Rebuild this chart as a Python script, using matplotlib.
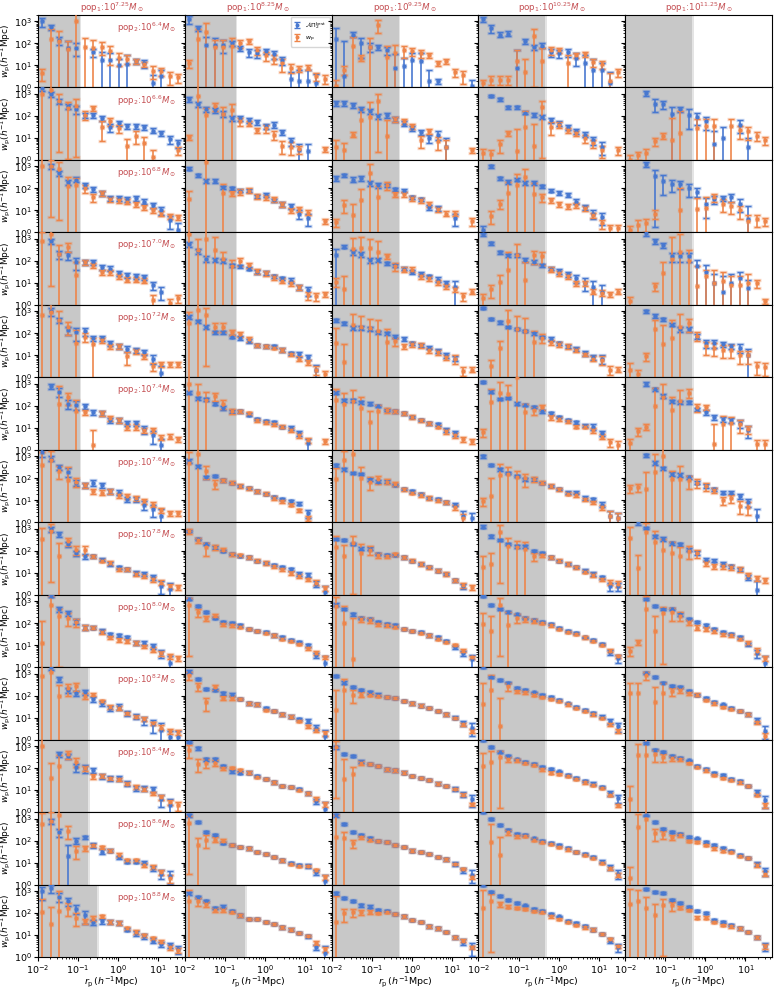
"""
pop1 x pop2 projected correlation grid: best-fit model vs measured w_p
"""

import numpy as np
import matplotlib.pyplot as plt
from matplotlib.ticker import LogLocator, NullFormatter

BLUE = "#4878d0"
ORANGE = "#ee854a"
RED = "#c44e52"

# bin centres in h^-1 Mpc
rp = [0.0128, 0.0208, 0.0339, 0.0552, 0.0898, 0.146, 0.238, 0.388, 0.631,
      1.03, 1.67, 2.72, 4.44, 7.23, 11.8, 19.2, 31.2]

pop1_mass = ["7.25", "8.25", "9.25", "10.25", "11.25"]
pop2_mass = ["6.4", "6.6", "6.8", "7.0", "7.2", "7.4", "7.6", "7.8", "8.0",
             "8.2", "8.4", "8.6", "8.8"]

# right edge of the grey (unresolved) band, per column, per row
shade_1 = [0.11, 0.11, 0.11, 0.11, 0.11, 0.11, 0.11, 0.11, 0.11, 0.18, 0.18, 0.18, 0.30]
shade_2 = [0.186, 0.186, 0.186, 0.186, 0.186, 0.186, 0.186, 0.186, 0.186, 0.186, 0.186, 0.186, 0.32]
shade_3 = [0.47] * 13
shade_4 = [0.47] * 13
shade_5 = [0.47] * 13

# log10 w_p, blue = best fit, one row per pop2 mass; *_up = upper error in dex
fit1 = [
    [3.0, 2.75, 2.15, 1.8, 1.8, None, 1.6, 1.25, 1.25, 1.0, 1.05, 1.2, 1.1, 0.2, 0.5, None, None],
    [3.25, 3.0, 2.65, 2.45, 2.3, 2.05, 2.05, 1.9, 1.5, 1.67, 1.55, 1.55, 1.5, 1.33, 1.2, 0.95, 0.75],
    [None, 3.0, 2.7, 2.3, 2.4, 2.15, 1.95, 1.8, 1.55, 1.55, 1.5, 1.55, 1.4, 1.25, 1.0, 0.55, 0.1],
    [None, 2.9, 2.3, 2.25, 1.95, 1.95, 1.95, 1.7, 1.65, 1.45, 1.35, 1.3, 1.25, 0.9, 0.6, None, None],
    [None, 3.0, 2.6, 2.15, 2.05, 2.1, 1.8, 1.8, 1.55, 1.4, 1.3, 1.25, 1.15, 0.85, 0.2, None, None],
    [None, 2.9, 2.65, 2.1, 2.05, 2.0, 1.7, 1.65, 1.35, 1.35, 1.2, 1.2, 0.95, 0.65, 0.2, None, None],
    [3.2, 2.9, 2.5, 2.3, 1.8, 1.7, 1.8, 1.7, 1.4, 1.35, 1.05, 1.05, 0.8, 0.6, 0.3, None, None],
    [None, 3.0, 2.75, 2.3, 1.9, 1.75, 1.75, 1.6, 1.4, 1.25, 1.15, 1.0, 0.95, 0.8, 0.4, 0.25, None],
    [None, 3.25, 2.65, 2.45, 2.1, 1.8, 1.8, 1.65, 1.5, 1.45, 1.35, 1.1, 1.1, 0.95, 0.65, 0.2, None],
    [None, 3.3, 2.75, 2.25, 2.1, 2.15, 1.85, 1.65, 1.45, 1.5, 1.2, 1.05, 0.9, 0.7, 0.45, 0.1, 0.1],
    [None, None, 2.65, 2.55, 2.05, 2.0, 1.9, 1.65, 1.55, 1.55, 1.3, 1.1, 1.1, 1.05, 0.6, 0.3, None],
    [None, 2.9, 2.4, 1.3, 2.0, 2.15, 1.8, 1.5, 1.55, 1.25, 1.05, 1.05, 1.0, 0.75, 0.5, 0.4, None],
    [3.0, 3.15, 2.75, 2.55, 2.2, 1.9, 1.6, 1.65, 1.6, 1.55, 1.25, 1.1, 0.95, 0.75, 0.6, 0.55, 0.35],
]
fit1_up = [
    [0.15, 0.1, 0.15, 0.3, 0.2, 0, 0.15, 0.35, 0.3, 0.3, 0.4, 0.1, 0.15, 0.35, 0.3, 0, 0],
    [0.1, 0.1, 0.1, 0.1, 0.15, 0.1, 0.1, 0.1, 0.15, 0.1, 0.1, 0.1, 0.1, 0.1, 0.1, 0.15, 0.15],
    [0, 0.1, 0.1, 0.1, 0.1, 0.1, 0.1, 0.1, 0.1, 0.1, 0.1, 0.1, 0.1, 0.1, 0.15, 0.2, 0.3],
    [0, 0.1, 0.15, 0.15, 0.2, 0.1, 0.1, 0.1, 0.1, 0.1, 0.1, 0.1, 0.1, 0.15, 0.2, 0, 0],
    [0, 0.15, 0.1, 0.15, 0.2, 0.15, 0.1, 0.1, 0.1, 0.1, 0.1, 0.1, 0.1, 0.15, 0.3, 0, 0],
    [0, 0.1, 0.15, 0.15, 0.15, 0.1, 0.1, 0.1, 0.1, 0.1, 0.1, 0.1, 0.15, 0.2, 0.3, 0, 0],
    [0.15, 0.1, 0.1, 0.15, 0.1, 0.1, 0.1, 0.1, 0.1, 0.1, 0.1, 0.1, 0.15, 0.2, 0.3, 0, 0],
    [0, 0.1, 0.1, 0.1, 0.1, 0.1, 0.07, 0.07, 0.07, 0.07, 0.07, 0.07, 0.07, 0.1, 0.2, 0.3, 0],
    [0, 0.05, 0.1, 0.1, 0.1, 0.1, 0.07, 0.07, 0.07, 0.07, 0.07, 0.07, 0.07, 0.1, 0.15, 0.3, 0],
    [0, 0.1, 0.1, 0.1, 0.1, 0.1, 0.1, 0.1, 0.1, 0.1, 0.1, 0.1, 0.15, 0.2, 0.3, 0.3, 0.3],
    [0, 0, 0.1, 0.1, 0.15, 0.15, 0.1, 0.1, 0.1, 0.1, 0.1, 0.1, 0.1, 0.1, 0.2, 0.3, 0],
    [0, 0.1, 0.15, 0.5, 0.1, 0.07, 0.1, 0.1, 0.07, 0.07, 0.07, 0.07, 0.07, 0.1, 0.15, 0.2, 0],
    [0.2, 0.15, 0.15, 0.15, 0.15, 0.2, 0.1, 0.1, 0.07, 0.07, 0.07, 0.1, 0.1, 0.1, 0.1, 0.1, 0.15],
]
wp1 = [
    [0.65, 2.2, 2.1, 1.75, 3.0, 1.85, 1.8, 1.85, 1.65, 1.35, 1.3, 1.2, 1.05, 0.75, 0.75, 0.5, 0.45],
    [3.0, 3.2, 2.7, 2.35, 2.45, 2.05, 2.35, 1.5, 1.75, 1.45, 0.65, 1.1, 0.75, 0.15, None, None, 0.45],
    [3.0, 3.0, 2.9, 2.1, 2.15, 2.0, 1.6, 1.8, 1.5, 1.45, 1.4, 1.3, 1.15, 1.0, 0.85, 0.75, 0.7],
    [2.9, 3.2, 2.3, 2.65, 1.35, 1.95, 1.8, 1.5, 1.5, 1.3, 1.15, 1.15, 1.1, 0.2, None, 0.1, 0.3],
    [2.85, 2.95, 2.6, 2.3, 1.55, 1.85, 1.5, 1.7, 1.4, 1.4, 0.95, 1.2, 0.95, 0.5, 0.6, 0.6, 0.6],
    [None, None, 2.1, 2.4, 1.75, 1.7, 0.2, 1.65, 1.45, 1.35, 1.05, 1.05, 0.9, 0.9, 0.55, 0.6, 0.5],
    [2.6, 2.85, 2.35, 1.9, 1.85, 1.7, 1.4, 1.35, 1.4, 1.25, 1.2, 1.1, 0.95, 0.8, 0.55, 0.4, 0.4],
    [2.55, 2.9, 1.75, 2.45, 2.05, 2.05, 1.75, 1.55, 1.45, 1.15, 1.15, 0.95, 0.85, 0.7, 0.55, 0.4, 0.35],
    [1.1, 2.85, 2.35, 2.25, 2.05, 1.8, 1.8, 1.6, 1.35, 1.25, 1.2, 1.1, 0.95, 0.8, 0.65, 0.5, 0.4],
    [2.9, 3.1, 2.0, 2.35, 2.45, 2.0, 2.05, 1.75, 1.5, 1.45, 1.2, 1.05, 0.95, 0.75, 0.55, 0.4, 0.35],
    [3.0, 1.55, 2.1, 2.65, 2.3, 2.0, 1.65, 1.65, 1.55, 1.5, 1.3, 1.15, 1.05, 0.85, 0.7, 0.45, 0.3],
    [2.75, 2.9, 3.15, 2.45, 1.55, 1.65, 1.8, 1.7, 1.55, 1.35, 1.1, 1.1, 0.9, 0.8, 0.55, 0.3, None],
    [2.05, 1.5, 2.1, 2.25, 1.8, 1.65, 1.75, 1.85, 1.6, 1.55, 1.3, 1.15, 1.0, 0.85, 0.7, 0.45, 0.3],
]
wp1_up = [
    [0.2, 0.45, 0.45, 0.35, 0.4, 0.4, 0.35, 0.2, 0.25, 0.2, 0.15, 0.1, 0.1, 0.2, 0.15, 0.2, 0.15],
    [0.4, 0.4, 0.3, 0.3, 0.3, 0.15, 0.1, 0.25, 0.15, 0.15, 0.3, 0.2, 0.3, 0.3, 0, 0, 0.15],
    [0.4, 0.3, 0.3, 0.4, 0.3, 0.15, 0.15, 0.1, 0.1, 0.1, 0.1, 0.1, 0.1, 0.1, 0.1, 0.1, 0.1],
    [0.4, 0.3, 0.4, 0.15, 0.6, 0.1, 0.1, 0.1, 0.1, 0.1, 0.1, 0.1, 0.1, 0.25, 0, 0.15, 0.15],
    [0.5, 0.4, 0.4, 0.2, 0.6, 0.15, 0.3, 0.1, 0.1, 0.1, 0.2, 0.1, 0.1, 0.15, 0.1, 0.1, 0.1],
    [0, 0, 0.8, 0.2, 0.5, 0.1, 0.7, 0.1, 0.1, 0.1, 0.1, 0.1, 0.1, 0.1, 0.1, 0.1, 0.1],
    [0.6, 0.4, 0.2, 0.6, 0.15, 0.1, 0.1, 0.1, 0.1, 0.1, 0.1, 0.1, 0.1, 0.1, 0.1, 0.1, 0.1],
    [0.5, 0.3, 0.6, 0.15, 0.15, 0.15, 0.07, 0.07, 0.07, 0.07, 0.07, 0.07, 0.07, 0.1, 0.1, 0.1, 0.1],
    [1.0, 0.4, 0.3, 0.2, 0.15, 0.1, 0.07, 0.07, 0.07, 0.07, 0.07, 0.07, 0.07, 0.1, 0.1, 0.1, 0.1],
    [0.5, 0.4, 0.5, 0.2, 0.15, 0.1, 0.07, 0.07, 0.07, 0.07, 0.07, 0.07, 0.07, 0.07, 0.1, 0.1, 0.1],
    [0.4, 0.7, 0.5, 0.15, 0.15, 0.1, 0.1, 0.07, 0.07, 0.07, 0.07, 0.07, 0.07, 0.07, 0.1, 0.1, 0.15],
    [0.5, 0.4, 0.4, 0.2, 0.2, 0.1, 0.07, 0.07, 0.07, 0.07, 0.07, 0.07, 0.07, 0.07, 0.1, 0.15, 0],
    [0.6, 0.8, 0.9, 0.2, 0.2, 0.1, 0.1, 0.07, 0.07, 0.07, 0.07, 0.07, 0.07, 0.07, 0.07, 0.1, 0.1],
]

fit2 = [
    [3.1, 2.7, 1.95, 1.95, 1.95, 2.0, 1.8, 1.6, 1.55, 1.65, 1.5, 1.25, 0.4, 0.3, 0.3, 0.2, None],
    [2.75, 2.55, 2.3, 2.25, 2.1, 1.9, 1.9, 1.8, 1.7, 1.55, 1.6, 1.25, 0.85, 0.45, 0.4, None, None],
    [2.9, 2.6, 2.35, 2.35, 2.05, 2.0, 1.9, 1.9, 1.65, 1.7, 1.45, 1.3, 1.2, 0.85, 0.65, None, None],
    [2.75, 2.45, 2.1, 2.05, 2.0, 1.8, 1.75, 1.65, 1.5, 1.45, 1.3, 1.2, 1.1, 0.8, 0.65, None, None],
    [2.75, 2.55, 2.3, 2.05, 2.05, 1.85, 1.8, 1.65, 1.45, 1.4, 1.4, 1.25, 1.1, 1.05, 0.9, 0.35, None],
    [2.6, 2.35, 2.3, 2.1, 1.9, 1.75, 1.75, 1.6, 1.4, 1.3, 1.25, 1.05, 1.0, 0.75, 0.3, None, None],
    [2.8, 2.55, 2.05, 2.1, 1.9, 1.8, 1.65, 1.55, 1.4, 1.3, 1.15, 1.05, 0.95, 0.85, 0.4, None, None],
    [2.9, 2.55, 2.3, 2.15, 2.0, 1.85, 1.75, 1.7, 1.55, 1.45, 1.35, 1.25, 1.15, 0.95, 0.9, 0.5, 0.1],
    [3.1, 2.8, 2.5, 2.25, 2.05, 2.0, 1.9, 1.75, 1.65, 1.6, 1.45, 1.35, 1.25, 1.15, 1.0, 0.55, 0.2],
    [3.1, 2.75, 2.3, 2.25, 2.1, 2.05, 1.85, 1.65, 1.6, 1.45, 1.3, 1.15, 1.05, 0.95, 0.85, 0.55, 0.15],
    [3.2, 2.9, 2.4, 2.4, 2.1, 1.85, 1.8, 1.8, 1.65, 1.5, 1.35, 1.2, 1.15, 1.05, 0.85, 0.5, 0.15],
    [3.15, 2.85, 2.4, 2.25, 1.9, 1.8, 1.7, 1.65, 1.5, 1.4, 1.25, 1.1, 1.0, 0.9, 0.85, 0.55, 0.15],
    [2.9, 2.75, 2.55, 2.25, 2.3, 2.1, 1.9, 1.75, 1.75, 1.6, 1.5, 1.35, 1.25, 1.1, 0.95, 0.45, 0.2],
]
fit2_up = [
    [0.15, 0.1, 0.35, 0.3, 0.2, 0.1, 0.1, 0.15, 0.15, 0.1, 0.15, 0.15, 0.3, 0.5, 0.5, 0.4, 0],
    [0.1, 0.1, 0.1, 0.1, 0.1, 0.1, 0.1, 0.1, 0.1, 0.1, 0.1, 0.1, 0.15, 0.25, 0.3, 0, 0],
    [0.07, 0.07, 0.07, 0.07, 0.07, 0.07, 0.07, 0.07, 0.07, 0.07, 0.07, 0.1, 0.1, 0.15, 0.2, 0, 0],
    [0.1, 0.1, 0.1, 0.07, 0.07, 0.07, 0.07, 0.07, 0.07, 0.07, 0.07, 0.07, 0.1, 0.1, 0.15, 0, 0],
    [0.07, 0.07, 0.07, 0.07, 0.07, 0.07, 0.07, 0.07, 0.07, 0.07, 0.07, 0.07, 0.07, 0.1, 0.1, 0.2, 0],
    [0.07, 0.07, 0.07, 0.07, 0.07, 0.07, 0.05, 0.05, 0.05, 0.05, 0.05, 0.05, 0.07, 0.1, 0.2, 0, 0],
    [0.07, 0.07, 0.07, 0.05, 0.05, 0.05, 0.05, 0.05, 0.05, 0.05, 0.05, 0.05, 0.05, 0.07, 0.15, 0, 0],
    [0.05, 0.05, 0.05, 0.05, 0.05, 0.05, 0.05, 0.05, 0.05, 0.05, 0.05, 0.05, 0.05, 0.07, 0.07, 0.1, 0.3],
    [0.05, 0.05, 0.05, 0.05, 0.05, 0.05, 0.05, 0.05, 0.05, 0.05, 0.05, 0.05, 0.05, 0.05, 0.07, 0.1, 0.3],
    [0.05, 0.05, 0.05, 0.05, 0.05, 0.05, 0.05, 0.05, 0.05, 0.05, 0.05, 0.05, 0.05, 0.05, 0.07, 0.1, 0.3],
    [0.05, 0.05, 0.05, 0.05, 0.05, 0.05, 0.05, 0.05, 0.05, 0.05, 0.05, 0.05, 0.05, 0.05, 0.07, 0.1, 0.3],
    [0.05, 0.05, 0.05, 0.05, 0.05, 0.05, 0.05, 0.05, 0.05, 0.05, 0.05, 0.05, 0.05, 0.05, 0.07, 0.1, 0.3],
    [0.05, 0.05, 0.05, 0.05, 0.05, 0.05, 0.05, 0.05, 0.05, 0.05, 0.05, 0.05, 0.05, 0.05, 0.07, 0.1, 0.3],
]
wp2 = [
    [1.1, 2.2, 2.5, 1.85, 1.85, 1.9, 2.0, 2.1, 1.7, 1.45, 1.3, 1.1, 0.9, 0.85, 0.9, 0.5, 0.4],
    [1.05, 2.9, 2.05, 2.45, 2.1, 2.25, 1.75, 1.65, 1.35, 1.45, 1.15, 0.65, 0.6, 0.5, None, None, 0.5],
    [1.5, None, 3.2, None, 1.8, 1.8, 1.85, 1.9, 1.65, 1.6, 1.5, 1.3, 1.0, 1.05, 0.9, None, 0.5],
    [3.2, 2.5, 3.0, 2.5, 2.1, 1.75, 2.0, 1.8, 1.55, 1.45, 1.25, 1.1, 1.0, 0.8, 0.45, 0.4, 0.5],
    [2.45, 3.05, 2.85, 2.3, 2.3, 2.05, 1.95, 1.75, 1.45, 1.4, 1.35, 1.25, 1.05, 0.85, 0.7, 0.35, 0.15],
    [3.0, 2.6, 2.25, 2.45, 2.1, 1.75, 1.75, 1.65, 1.35, 1.25, 1.15, 1.05, 0.9, 0.65, 0.45, None, 0.4],
    [2.7, 3.1, 2.35, 1.75, 1.9, 1.8, 1.65, 1.55, 1.4, 1.3, 1.1, 0.95, 0.8, 0.55, 0.2, None, None],
    [2.9, 2.5, 2.15, 2.15, 2.05, 1.85, 1.8, 1.7, 1.55, 1.45, 1.3, 1.15, 1.0, 0.85, 0.7, 0.55, 0.3],
    [2.85, 2.5, 2.25, 2.35, 1.95, 1.9, 1.85, 1.75, 1.65, 1.55, 1.45, 1.3, 1.2, 1.05, 0.85, 0.65, 0.45],
    [2.95, 2.45, 1.7, 2.4, 1.9, 1.9, 1.85, 1.65, 1.6, 1.35, 1.3, 1.15, 1.05, 0.85, 0.6, 0.45, 0.3],
    [2.85, 2.2, 2.25, 2.25, 2.0, 2.0, 1.9, 1.8, 1.6, 1.5, 1.35, 1.2, 1.15, 1.0, 0.85, 0.6, 0.35],
    [2.8, 1.8, 2.05, 2.05, 2.0, 1.8, 1.7, 1.65, 1.5, 1.4, 1.25, 1.1, 0.95, 0.85, 0.85, 0.65, 0.35],
    [2.55, 2.55, 2.4, 2.15, 2.15, 2.05, 1.9, 1.75, 1.75, 1.6, 1.5, 1.35, 1.25, 1.1, 0.95, 0.65, 0.35],
]
wp2_up = [
    [0.15, 0.45, 0.45, 0.3, 0.3, 0.35, 0.15, 0.1, 0.15, 0.15, 0.15, 0.2, 0.15, 0.1, 0.1, 0.15, 0.15],
    [0.1, 0.5, 0.3, 0.15, 0.3, 0.3, 0.15, 0.1, 0.1, 0.15, 0.15, 0.2, 0.2, 0.15, 0, 0, 0.1],
    [0.4, 0, 0.5, 0, 0.4, 0.1, 0.1, 0.1, 0.1, 0.1, 0.1, 0.1, 0.1, 0.1, 0.1, 0, 0.1],
    [0.4, 0.5, 0.5, 0.6, 0.3, 0.3, 0.15, 0.1, 0.1, 0.1, 0.1, 0.1, 0.1, 0.1, 0.15, 0.15, 0.1],
    [0.5, 0.5, 0.3, 0.15, 0.15, 0.1, 0.1, 0.1, 0.07, 0.07, 0.07, 0.07, 0.07, 0.1, 0.1, 0.15, 0.15],
    [0.5, 0.4, 0.4, 0.15, 0.15, 0.1, 0.07, 0.07, 0.07, 0.07, 0.07, 0.07, 0.07, 0.1, 0.1, 0, 0.1],
    [0.5, 0.4, 0.2, 0.15, 0.07, 0.07, 0.07, 0.07, 0.07, 0.07, 0.07, 0.07, 0.07, 0.07, 0.1, 0, 0],
    [0.1, 0.1, 0.2, 0.1, 0.07, 0.07, 0.07, 0.07, 0.07, 0.07, 0.07, 0.07, 0.07, 0.07, 0.07, 0.1, 0.1],
    [0.3, 0.15, 0.1, 0.07, 0.07, 0.05, 0.05, 0.05, 0.05, 0.05, 0.05, 0.05, 0.05, 0.05, 0.05, 0.07, 0.07],
    [0.15, 0.15, 0.2, 0.1, 0.07, 0.07, 0.05, 0.05, 0.05, 0.05, 0.05, 0.05, 0.05, 0.05, 0.07, 0.07, 0.1],
    [0.2, 0.2, 0.15, 0.1, 0.07, 0.05, 0.05, 0.05, 0.05, 0.05, 0.05, 0.05, 0.05, 0.05, 0.05, 0.07, 0.1],
    [0.3, 0.3, 0.2, 0.1, 0.07, 0.05, 0.05, 0.05, 0.05, 0.05, 0.05, 0.05, 0.05, 0.05, 0.05, 0.07, 0.1],
    [0.5, 0.15, 0.1, 0.07, 0.07, 0.05, 0.05, 0.05, 0.05, 0.05, 0.05, 0.05, 0.05, 0.05, 0.05, 0.07, 0.1],
]

fit3 = [
    [2.2, 0.5, 2.4, 2.0, 1.85, 1.85, 1.7, 0.9, 0.95, 1.25, 1.2, 0.3, 0.3, None, None, None, 0.05],
    [2.6, 2.6, 2.5, 2.3, 2.2, 2.0, 2.05, 1.85, 1.65, 1.45, 1.25, 1.0, 1.15, 0.6, None, None, None],
    [2.45, 2.6, 2.4, 2.45, 2.25, 2.15, 2.15, 1.95, 1.9, 1.6, 1.5, 1.15, 1.1, None, 0.65, None, None],
    [2.25, 2.65, 2.4, 2.3, 2.05, 2.05, 1.9, 1.8, 1.65, 1.5, 1.4, 1.3, 1.15, 1.0, 0.8, None, None],
    [2.6, 2.45, 2.25, 2.25, 2.2, 2.05, 2.0, 1.85, 1.75, 1.55, 1.45, 1.35, 1.2, 1.0, 0.85, None, None],
    [2.6, 2.25, 2.25, 2.15, 2.1, 2.0, 1.8, 1.75, 1.65, 1.5, 1.35, 1.2, 1.15, 0.9, 0.75, None, None],
    [2.6, 2.4, 2.25, 2.2, 1.95, 1.85, 1.85, 1.7, 1.5, 1.4, 1.3, 1.1, 1.05, 0.9, 0.8, 0.3, 0.2],
    [2.55, 2.5, 2.3, 2.1, 2.1, 1.85, 1.8, 1.8, 1.7, 1.55, 1.4, 1.25, 1.1, 0.95, 0.65, 0.4, None],
    [2.85, 2.65, 2.4, 2.25, 2.2, 2.05, 1.95, 1.9, 1.75, 1.65, 1.6, 1.45, 1.35, 1.2, 0.9, 0.65, 0.35],
    [2.9, 2.6, 2.4, 2.25, 2.15, 2.05, 1.95, 1.9, 1.75, 1.65, 1.55, 1.45, 1.3, 1.15, 1.0, 0.75, 0.55],
    [2.95, 2.65, 2.55, 2.3, 2.2, 2.1, 1.95, 1.9, 1.8, 1.65, 1.55, 1.45, 1.3, 1.2, 1.05, 0.8, 0.6],
    [3.15, 2.75, 2.4, 2.25, 2.1, 2.0, 1.95, 1.8, 1.7, 1.55, 1.5, 1.4, 1.25, 1.15, 0.95, 0.65, 0.45],
    [2.9, 2.7, 2.55, 2.35, 2.3, 2.15, 2.1, 1.95, 1.85, 1.7, 1.6, 1.4, 1.3, 1.15, 0.9, 0.7, 0.45],
]
fit3_up = [
    [0.5, 1.6, 0.1, 0.25, 0.15, 0.1, 0.15, 0.6, 0.4, 0.3, 0.35, 0.5, 0.1, 0, 0, 0, 0.3],
    [0.1, 0.1, 0.1, 0.1, 0.1, 0.1, 0.1, 0.1, 0.1, 0.1, 0.1, 0.15, 0.15, 0.4, 0, 0, 0],
    [0.1, 0.07, 0.1, 0.1, 0.1, 0.1, 0.07, 0.07, 0.07, 0.07, 0.07, 0.1, 0.1, 0, 0.2, 0, 0],
    [0.3, 0.07, 0.1, 0.1, 0.1, 0.07, 0.07, 0.07, 0.07, 0.07, 0.07, 0.07, 0.1, 0.1, 0.3, 0, 0],
    [0.07, 0.07, 0.07, 0.07, 0.07, 0.07, 0.07, 0.07, 0.07, 0.07, 0.07, 0.07, 0.07, 0.1, 0.1, 0, 0],
    [0.07, 0.07, 0.07, 0.07, 0.07, 0.05, 0.05, 0.05, 0.05, 0.05, 0.05, 0.05, 0.07, 0.07, 0.1, 0, 0],
    [0.07, 0.07, 0.05, 0.05, 0.05, 0.05, 0.05, 0.05, 0.05, 0.05, 0.05, 0.05, 0.05, 0.07, 0.07, 0.2, 0.2],
    [0.05, 0.05, 0.05, 0.05, 0.05, 0.05, 0.05, 0.05, 0.05, 0.05, 0.05, 0.05, 0.05, 0.05, 0.07, 0.1, 0],
    [0.05, 0.05, 0.05, 0.05, 0.05, 0.05, 0.05, 0.05, 0.05, 0.05, 0.05, 0.05, 0.05, 0.05, 0.07, 0.1, 0.2],
    [0.05, 0.05, 0.05, 0.05, 0.05, 0.05, 0.05, 0.05, 0.05, 0.05, 0.05, 0.05, 0.05, 0.05, 0.07, 0.1, 0.2],
    [0.05, 0.05, 0.05, 0.05, 0.05, 0.05, 0.05, 0.05, 0.05, 0.05, 0.05, 0.05, 0.05, 0.05, 0.07, 0.1, 0.2],
    [0.05, 0.05, 0.05, 0.05, 0.05, 0.05, 0.05, 0.05, 0.05, 0.05, 0.05, 0.05, 0.05, 0.05, 0.07, 0.1, 0.2],
    [0.05, 0.05, 0.05, 0.05, 0.05, 0.05, 0.05, 0.05, 0.05, 0.05, 0.05, 0.05, 0.05, 0.05, 0.07, 0.1, 0.2],
]
wp3 = [
    [0.05, 0.8, 1.9, 1.35, 1.85, 2.85, 1.4, 1.55, 1.7, 1.65, 1.55, 1.45, 1.1, 1.2, 0.7, 0.55, None],
    [0.6, 0.45, 1.15, 1.8, 1.95, 2.7, 1.1, 1.85, 1.75, 1.55, 0.9, 1.3, 0.85, 0.6, None, None, 0.45],
    [0.45, 1.25, 0.8, 1.45, 2.7, 1.6, 2.15, 1.75, 1.75, 1.55, 1.45, 1.3, 1.05, 0.85, 0.85, None, 0.5],
    [1.05, 0.7, 2.55, 2.6, 2.6, 2.4, 2.2, 1.75, 1.6, 1.6, 1.3, 1.2, 1.05, 0.85, 0.7, 0.4, 0.6],
    [1.55, 0.7, 2.4, 2.3, 2.25, 2.1, 1.6, 1.65, 1.4, 1.5, 1.45, 1.25, 1.15, 0.9, 0.85, 0.3, 0.35],
    [2.25, 2.1, 2.2, 1.9, 1.25, 1.75, 1.8, 1.75, 1.65, 1.5, 1.35, 1.2, 1.05, 0.85, 0.65, 0.5, 0.4],
    [1.95, 2.85, 3.1, 2.0, 1.85, 1.95, 1.85, 1.75, 1.5, 1.35, 1.25, 1.1, 1.0, 0.9, 0.7, 0.2, None],
    [2.15, 1.75, 2.35, 1.9, 2.05, 1.8, 1.75, 1.85, 1.7, 1.55, 1.4, 1.25, 1.1, 0.95, 0.65, 0.45, 0.35],
    [2.8, 2.0, 0.35, 2.2, 2.15, 1.95, 1.9, 1.85, 1.75, 1.65, 1.55, 1.45, 1.3, 1.15, 1.0, 0.75, 0.45],
    [1.35, 2.25, 2.05, 2.05, 2.05, 2.0, 1.95, 1.9, 1.75, 1.65, 1.55, 1.45, 1.3, 1.15, 0.98, 0.7, 0.4],
    [2.95, 1.5, 1.75, 2.25, 2.2, 2.1, 1.95, 1.9, 1.8, 1.65, 1.55, 1.45, 1.3, 1.2, 1.05, 0.8, 0.35],
    [2.15, 2.1, 1.9, 2.15, 2.05, 2.0, 1.95, 1.8, 1.7, 1.55, 1.5, 1.4, 1.25, 1.15, 0.95, 0.7, 0.35],
    [1.6, 2.0, 2.05, 2.05, 2.05, 2.0, 2.05, 1.95, 1.85, 1.7, 1.6, 1.4, 1.3, 1.15, 0.9, 0.75, 0.45],
]
wp3_up = [
    [0.3, 0.15, 0.4, 0.1, 0.4, 0.2, 0.5, 0.4, 0.2, 0.15, 0.15, 0.1, 0.1, 0.1, 0.15, 0.2, 0],
    [0.3, 0.3, 0.1, 0.5, 0.7, 0.3, 0.7, 0.1, 0.1, 0.1, 0.2, 0.1, 0.2, 0.3, 0, 0, 0.1],
    [0.15, 0.2, 0.5, 0.5, 0.4, 0.5, 0.15, 0.1, 0.1, 0.1, 0.1, 0.1, 0.1, 0.1, 0.1, 0, 0.15],
    [0.15, 0.6, 0.5, 0.5, 0.4, 0.5, 0.1, 0.15, 0.1, 0.1, 0.1, 0.1, 0.1, 0.1, 0.1, 0.15, 0.1],
    [0.7, 0.8, 0.5, 0.5, 0.4, 0.5, 0.6, 0.15, 0.1, 0.1, 0.1, 0.1, 0.1, 0.1, 0.15, 0.15, 0.1],
    [0.5, 0.5, 0.5, 0.5, 0.5, 0.3, 0.1, 0.07, 0.07, 0.07, 0.07, 0.07, 0.07, 0.1, 0.1, 0.1, 0.1],
    [0.5, 0.4, 0.4, 0.5, 0.2, 0.15, 0.1, 0.07, 0.07, 0.07, 0.07, 0.07, 0.07, 0.07, 0.1, 0.15, 0],
    [0.5, 0.5, 0.3, 0.4, 0.15, 0.1, 0.07, 0.07, 0.07, 0.07, 0.07, 0.07, 0.07, 0.07, 0.07, 0.1, 0.1],
    [0.4, 0.8, 1.9, 0.1, 0.1, 0.07, 0.05, 0.05, 0.05, 0.05, 0.05, 0.05, 0.05, 0.05, 0.05, 0.07, 0.07],
    [0.9, 0.5, 0.2, 0.1, 0.07, 0.05, 0.05, 0.05, 0.05, 0.05, 0.05, 0.05, 0.05, 0.05, 0.05, 0.07, 0.07],
    [0.3, 0.9, 0.3, 0.07, 0.05, 0.05, 0.05, 0.05, 0.05, 0.05, 0.05, 0.05, 0.05, 0.05, 0.05, 0.05, 0.07],
    [1.0, 0.3, 0.15, 0.07, 0.05, 0.05, 0.05, 0.05, 0.05, 0.05, 0.05, 0.05, 0.05, 0.05, 0.05, 0.05, 0.07],
    [1.2, 0.2, 0.15, 0.1, 0.07, 0.05, 0.05, 0.05, 0.05, 0.05, 0.05, 0.05, 0.05, 0.05, 0.05, 0.05, 0.07],
]

fit4 = [
    [3.1, 2.7, 2.4, 2.45, 0.9, 2.1, 1.85, 1.9, 1.6, 1.55, 1.6, 1.35, 1.1, 0.8, 0.8, 0.2, None],
    [None, 2.9, 2.75, 2.4, 2.4, 2.15, 2.05, 1.95, 1.8, 1.65, 1.5, 1.3, 1.15, 0.9, 0.6, None, None],
    [0.1, 3.0, 2.45, 2.3, 2.4, 2.25, 2.25, 2.1, 1.9, 1.8, 1.7, 1.4, 1.15, 0.85, 0.7, None, None],
    [3.2, 2.8, 2.4, 2.25, 2.25, 2.05, 1.95, 1.8, 1.65, 1.55, 1.4, 1.2, 1.0, 0.8, 0.6, None, None],
    [3.15, 2.65, 2.5, 2.3, 2.2, 2.1, 2.0, 1.85, 1.75, 1.55, 1.4, 1.3, 1.1, 0.9, 0.85, None, None],
    [3.1, 2.65, 2.3, 2.35, 2.1, 2.05, 1.95, 1.75, 1.65, 1.5, 1.35, 1.25, 1.1, 1.05, 0.75, None, None],
    [3.0, 2.6, 2.4, 2.25, 2.1, 1.95, 1.95, 1.8, 1.65, 1.5, 1.35, 1.35, 1.1, 1.05, 0.8, 0.3, 0.2],
    [3.1, 2.65, 2.5, 2.3, 2.2, 2.2, 2.0, 1.9, 1.7, 1.55, 1.4, 1.25, 1.1, 0.95, 0.8, 0.4, 0.4],
    [3.25, 2.85, 2.65, 2.5, 2.4, 2.25, 2.15, 2.05, 1.95, 1.8, 1.65, 1.55, 1.35, 1.25, 1.05, 0.7, 0.4],
    [3.3, 2.85, 2.7, 2.6, 2.35, 2.25, 2.15, 2.05, 1.95, 1.8, 1.65, 1.5, 1.35, 1.2, 1.05, 0.85, 0.6],
    [3.3, 2.95, 2.75, 2.55, 2.4, 2.3, 2.2, 2.05, 1.95, 1.85, 1.7, 1.55, 1.4, 1.3, 1.15, 0.85, 0.65],
    [3.3, 3.0, 2.7, 2.5, 2.3, 2.25, 2.1, 2.0, 1.9, 1.8, 1.65, 1.5, 1.4, 1.25, 1.05, 0.8, 0.5],
    [3.3, 2.95, 2.8, 2.6, 2.45, 2.35, 2.2, 2.1, 1.95, 1.85, 1.65, 1.55, 1.4, 1.25, 1.05, 0.75, 0.45],
]
fit4_up = [
    [0.1, 0.15, 0.1, 0.1, 0.8, 0.1, 0.1, 0.1, 0.15, 0.15, 0.15, 0.2, 0.35, 0.5, 0.3, 0.5, 0],
    [0, 0.05, 0.05, 0.07, 0.07, 0.07, 0.07, 0.07, 0.1, 0.1, 0.1, 0.1, 0.1, 0.15, 0.2, 0, 0],
    [0.2, 0.05, 0.07, 0.07, 0.07, 0.07, 0.07, 0.07, 0.07, 0.07, 0.07, 0.1, 0.1, 0.15, 0.2, 0, 0],
    [0.05, 0.05, 0.07, 0.07, 0.07, 0.07, 0.07, 0.07, 0.07, 0.1, 0.1, 0.15, 0.2, 0.3, 0.3, 0, 0],
    [0.05, 0.05, 0.05, 0.05, 0.05, 0.05, 0.05, 0.05, 0.07, 0.07, 0.07, 0.07, 0.1, 0.1, 0.15, 0, 0],
    [0.05, 0.05, 0.05, 0.05, 0.05, 0.05, 0.05, 0.05, 0.05, 0.05, 0.05, 0.07, 0.07, 0.1, 0.1, 0, 0],
    [0.05, 0.05, 0.05, 0.05, 0.05, 0.05, 0.05, 0.05, 0.05, 0.05, 0.05, 0.05, 0.07, 0.07, 0.1, 0.2, 0.2],
    [0.05, 0.05, 0.05, 0.05, 0.05, 0.05, 0.05, 0.05, 0.05, 0.05, 0.05, 0.05, 0.05, 0.07, 0.07, 0.15, 0.15],
    [0.04, 0.04, 0.04, 0.04, 0.04, 0.04, 0.04, 0.04, 0.04, 0.04, 0.04, 0.04, 0.04, 0.05, 0.05, 0.1, 0.15],
    [0.04, 0.04, 0.04, 0.04, 0.04, 0.04, 0.04, 0.04, 0.04, 0.04, 0.04, 0.04, 0.04, 0.05, 0.05, 0.1, 0.15],
    [0.04, 0.04, 0.04, 0.04, 0.04, 0.04, 0.04, 0.04, 0.04, 0.04, 0.04, 0.04, 0.04, 0.05, 0.05, 0.1, 0.15],
    [0.04, 0.04, 0.04, 0.04, 0.04, 0.04, 0.04, 0.04, 0.04, 0.04, 0.04, 0.04, 0.04, 0.05, 0.05, 0.1, 0.15],
    [0.04, 0.04, 0.04, 0.04, 0.04, 0.04, 0.04, 0.04, 0.04, 0.04, 0.04, 0.04, 0.04, 0.05, 0.05, 0.1, 0.15],
]
wp4 = [
    [0.2, 0.35, 0.35, 0.35, 1.2, 0.7, 2.35, 1.2, 1.7, 1.7, 1.1, 1.45, 1.5, 1.15, 1.05, 0.3, 0.7],
    [0.3, 0.25, 0.7, 1.2, 0.4, 1.5, 0.65, 2.4, 1.5, 1.6, 1.35, 1.2, 1.0, 0.75, 0.45, None, 0.45],
    [None, 0.75, 1.3, 1.8, 2.15, 2.5, 1.75, 1.6, 1.45, 1.3, 1.2, 1.25, 1.1, 0.8, 0.4, 0.2, 0.2],
    [0.3, 0.7, 1.05, 1.6, 2.25, 1.15, 2.25, 2.2, 1.6, 1.45, 1.3, 1.0, 1.0, 0.6, 0.55, 0.5, 0.6],
    [None, 0.5, 1.35, 2.55, 2.2, 2.1, 1.6, 1.8, 1.6, 1.5, 1.4, 1.25, 1.05, 0.85, 0.8, 0.35, 0.35],
    [0.8, 2.15, 2.6, 2.55, 3.3, 1.7, 1.8, 1.95, 1.5, 1.4, 1.3, 1.05, 1.05, 0.9, 0.6, 0.35, 0.2],
    [0.95, 1.2, 2.15, 2.2, 2.05, 2.0, 1.95, 1.8, 1.65, 1.5, 1.3, 1.25, 1.05, 0.9, 0.7, 0.3, 0.2],
    [1.25, 1.4, 2.85, 2.2, 2.15, 2.1, 1.75, 1.8, 1.7, 1.55, 1.4, 1.25, 1.05, 0.9, 0.7, 0.55, 0.5],
    [1.95, 1.65, 2.85, 1.9, 2.25, 2.2, 2.1, 2.0, 1.9, 1.75, 1.6, 1.5, 1.35, 1.2, 1.0, 0.75, 0.5],
    [1.6, 2.25, 0.6, 2.45, 2.2, 2.15, 2.05, 1.95, 1.85, 1.75, 1.6, 1.45, 1.3, 1.15, 1.0, 0.7, 0.4],
    [2.1, 2.3, 2.5, 2.4, 2.35, 2.25, 2.15, 1.95, 1.8, 1.75, 1.65, 1.5, 1.35, 1.25, 1.1, 0.8, 0.3],
    [None, 1.95, 1.35, 2.4, 2.2, 2.2, 2.05, 1.95, 1.85, 1.7, 1.6, 1.5, 1.35, 1.2, 1.0, 0.75, 0.45],
    [2.25, 2.55, 2.4, 2.3, 2.25, 2.2, 2.1, 2.05, 1.85, 1.75, 1.6, 1.45, 1.35, 1.25, 1.05, 0.8, 0.5],
]
wp4_up = [
    [0.15, 0.15, 0.15, 0.15, 0.5, 0.6, 0.3, 0.6, 0.15, 0.1, 0.35, 0.1, 0.1, 0.15, 0.15, 0.35, 0.15],
    [0.2, 0.2, 0.2, 0.1, 1.0, 0.7, 1.0, 0.3, 0.2, 0.1, 0.1, 0.1, 0.15, 0.15, 0.2, 0, 0.15],
    [0, 0.2, 0.15, 0.5, 0.5, 0.4, 0.5, 0.15, 0.1, 0.1, 0.1, 0.1, 0.1, 0.1, 0.15, 0.15, 0.15],
    [0.2, 0.2, 0.3, 0.8, 0.5, 0.8, 0.2, 0.2, 0.1, 0.1, 0.1, 0.1, 0.1, 0.1, 0.1, 0.1, 0.1],
    [0, 0.3, 0.3, 0.5, 0.6, 0.6, 0.5, 0.15, 0.1, 0.1, 0.1, 0.07, 0.07, 0.1, 0.15, 0.15, 0.1],
    [0.15, 0.6, 0.5, 0.4, 0.4, 0.4, 0.15, 0.1, 0.1, 0.07, 0.07, 0.07, 0.07, 0.1, 0.1, 0.15, 0.2],
    [0.15, 0.8, 0.5, 0.3, 0.3, 0.2, 0.1, 0.07, 0.07, 0.07, 0.07, 0.07, 0.07, 0.07, 0.1, 0.2, 0.2],
    [0.5, 0.5, 0.3, 0.4, 0.3, 0.3, 0.15, 0.07, 0.07, 0.07, 0.07, 0.07, 0.07, 0.07, 0.07, 0.1, 0.1],
    [0.5, 0.7, 0.3, 0.6, 0.15, 0.1, 0.07, 0.05, 0.05, 0.05, 0.05, 0.05, 0.05, 0.05, 0.05, 0.07, 0.07],
    [1.0, 0.7, 1.3, 0.15, 0.07, 0.05, 0.05, 0.05, 0.05, 0.05, 0.05, 0.05, 0.05, 0.05, 0.05, 0.07, 0.07],
    [0.6, 0.5, 0.3, 0.1, 0.07, 0.05, 0.05, 0.05, 0.05, 0.05, 0.05, 0.05, 0.05, 0.05, 0.05, 0.07, 0.07],
    [0, 0.8, 0.8, 0.1, 0.07, 0.05, 0.05, 0.05, 0.05, 0.05, 0.05, 0.05, 0.05, 0.05, 0.05, 0.07, 0.07],
    [0.8, 0.3, 0.1, 0.07, 0.05, 0.05, 0.05, 0.05, 0.05, 0.05, 0.05, 0.05, 0.05, 0.05, 0.05, 0.07, 0.07],
]

fit5 = [
    [None] * 17,
    [None, None, 3.05, 2.55, 2.55, 2.1, 2.3, 2.05, 1.95, 1.75, 0.7, 1.0, None, 1.6, 0.6, None, None],
    [None, None, 3.1, 2.55, 2.35, 2.2, 2.2, 2.0, 1.85, 1.3, 1.5, 1.55, 1.6, 1.3, 0.6, None, None],
    [None, None, 3.25, 2.9, 2.7, 2.2, 2.2, 2.2, 1.75, 1.5, 1.0, 0.6, 1.0, 1.2, 0.75, None, None],
    [None, None, 3.0, 2.8, 2.65, 2.4, 2.2, 2.2, 1.85, 1.55, 1.55, 1.5, 1.4, 1.35, 1.0, None, None],
    [None, None, 3.0, 2.75, 2.45, 2.2, 2.15, 2.15, 1.85, 1.7, 1.5, 1.4, 1.35, 1.2, 0.9, None, None],
    [None, None, 3.05, 2.7, 2.45, 2.2, 2.15, 2.05, 1.8, 1.65, 1.5, 1.35, 1.35, 1.2, 0.9, 0.3, None],
    [None, 3.3, 3.05, 2.65, 2.55, 2.35, 2.3, 2.05, 1.9, 1.6, 1.55, 1.4, 1.3, 1.15, 0.8, 0.2, None],
    [None, None, 3.1, 2.8, 2.65, 2.65, 2.4, 2.2, 2.05, 1.9, 1.75, 1.6, 1.5, 1.35, 1.05, 0.65, 0.2],
    [None, None, 3.05, 2.85, 2.6, 2.45, 2.4, 2.2, 2.05, 1.9, 1.7, 1.6, 1.45, 1.3, 1.15, 0.9, 0.4],
    [None, None, 3.15, 2.85, 2.75, 2.55, 2.45, 2.35, 2.1, 1.95, 1.8, 1.7, 1.5, 1.4, 1.2, 0.9, 0.55],
    [None, None, 3.15, 2.85, 2.55, 2.4, 2.3, 2.15, 2.1, 1.95, 1.8, 1.65, 1.55, 1.35, 1.2, 0.95, 0.6],
    [None, None, 3.1, 2.95, 2.9, 2.6, 2.45, 2.3, 2.1, 2.0, 1.7, 1.6, 1.45, 1.3, 1.15, 0.9, 0.5],
]
fit5_up = [
    [0] * 17,
    [0, 0, 0.1, 0.2, 0.15, 0.3, 0.1, 0.25, 0.2, 0.2, 0.6, 0.5, 0, 0.2, 0.4, 0, 0],
    [0, 0, 0.1, 0.3, 0.25, 0.2, 0.15, 0.2, 0.15, 0.25, 0.15, 0.1, 0.15, 0.2, 0.6, 0, 0],
    [0, 0, 0.1, 0.1, 0.1, 0.15, 0.15, 0.15, 0.3, 0.3, 0.4, 0.7, 0.4, 0.3, 0.4, 0, 0],
    [0, 0, 0.07, 0.07, 0.07, 0.07, 0.1, 0.1, 0.1, 0.15, 0.15, 0.1, 0.1, 0.15, 0.3, 0, 0],
    [0, 0, 0.07, 0.07, 0.07, 0.07, 0.07, 0.07, 0.07, 0.1, 0.1, 0.1, 0.1, 0.15, 0.2, 0, 0],
    [0, 0, 0.07, 0.07, 0.07, 0.07, 0.07, 0.07, 0.07, 0.07, 0.07, 0.07, 0.07, 0.1, 0.15, 0.3, 0],
    [0, 0.1, 0.05, 0.07, 0.07, 0.07, 0.07, 0.07, 0.07, 0.07, 0.07, 0.07, 0.07, 0.07, 0.1, 0.4, 0],
    [0, 0, 0.05, 0.05, 0.05, 0.05, 0.05, 0.05, 0.05, 0.05, 0.05, 0.05, 0.05, 0.05, 0.07, 0.15, 0.3],
    [0, 0, 0.04, 0.04, 0.04, 0.04, 0.04, 0.04, 0.04, 0.04, 0.04, 0.04, 0.04, 0.05, 0.05, 0.1, 0.2],
    [0, 0, 0.04, 0.04, 0.04, 0.04, 0.04, 0.04, 0.04, 0.04, 0.04, 0.04, 0.04, 0.05, 0.05, 0.1, 0.2],
    [0, 0, 0.04, 0.04, 0.04, 0.04, 0.04, 0.04, 0.04, 0.04, 0.04, 0.04, 0.04, 0.05, 0.05, 0.07, 0.15],
    [0, 0, 0.04, 0.04, 0.04, 0.04, 0.04, 0.04, 0.04, 0.04, 0.04, 0.04, 0.04, 0.05, 0.05, 0.07, 0.15],
]
wp5 = [
    [None] * 17,
    [0.0, 0.2, 0.3, 0.85, 1.1, 0.9, 1.2, None, 1.45, 1.55, 1.55, None, 1.55, 1.35, 1.3, 1.1, 0.9],
    [0.1, 0.35, 0.4, 0.85, None, None, 1.0, None, 1.05, 1.1, 1.6, 1.3, 1.2, 1.0, 0.5, 0.6, 0.5],
    [0.15, None, None, 0.85, 1.45, 2.1, 2.4, 2.0, 0.85, 1.3, 1.0, 1.1, 0.9, 0.9, 1.0, 1.0, 0.15],
    [0.35, 0.15, 0.95, 2.2, 1.5, 1.8, 2.3, 2.45, 1.9, 1.4, 1.35, 1.25, 1.25, 1.0, 1.0, 0.5, 0.45],
    [0.3, 0.85, 1.05, 2.0, 2.4, 1.8, 2.2, 2.6, 1.95, 1.95, 0.25, 1.15, 1.2, 1.15, 0.95, 0.25, 0.25],
    [1.55, 1.6, 1.5, 2.3, 3.0, 1.95, 1.95, 1.9, 1.8, 1.65, 1.45, 1.0, 1.1, 0.75, 0.7, None, None],
    [2.6, 1.2, 2.85, 2.4, 2.05, 1.9, 1.75, 2.0, 1.9, 1.45, 1.3, 1.3, 1.25, 1.15, 0.9, 0.75, 0.65],
    [0.75, 1.15, 2.65, 1.65, 2.45, 2.5, 2.35, 2.05, 1.8, 1.75, 1.65, 1.5, 1.45, 1.3, 1.1, 0.75, 0.4],
    [2.1, 2.1, 2.95, 1.7, 2.1, 2.2, 2.25, 2.1, 2.05, 1.8, 1.65, 1.5, 1.4, 1.3, 1.15, 0.8, 0.15],
    [0.6, 2.6, 2.6, 2.65, 2.5, 2.45, 2.4, 2.25, 2.05, 1.9, 1.7, 1.55, 1.45, 1.35, 1.2, 0.8, 0.3],
    [0.3, 2.6, 3.0, 2.35, 2.3, 2.15, 2.25, 2.0, 1.95, 1.8, 1.65, 1.55, 1.5, 1.3, 1.2, 0.9, 0.5],
    [2.4, 2.55, 2.25, 1.9, 2.35, 2.35, 2.25, 2.15, 1.8, 1.8, 1.6, 1.45, 1.4, 1.3, 1.15, 0.9, 0.5],
]
wp5_up = [
    [0] * 17,
    [0.2, 0.15, 0.2, 0.15, 0.1, 1.0, 1.0, 0, 0.4, 0.3, 0.3, 0, 0.3, 0.2, 0.2, 0.15, 0.15],
    [0.2, 0.2, 0.2, 0.15, 0, 0, 1.0, 0, 0.5, 0.5, 0.15, 0.2, 0.2, 0.2, 0.3, 0.2, 0.15],
    [0.2, 0, 0, 0.15, 0.5, 1.0, 0.8, 0.5, 0.9, 0.3, 0.6, 0.4, 0.4, 0.4, 0.4, 0.15, 0.1],
    [0.3, 0.2, 0.15, 0.4, 0.9, 0.8, 0.6, 0.2, 0.15, 0.2, 0.2, 0.2, 0.2, 0.2, 0.2, 0.2, 0.2],
    [0.2, 0.15, 0.1, 0.8, 0.6, 0.6, 0.5, 0.15, 0.15, 0.1, 0.9, 0.4, 0.3, 0.2, 0.15, 0.2, 0.2],
    [0.15, 0.15, 0.8, 0.8, 0.5, 0.4, 0.6, 0.2, 0.15, 0.15, 0.1, 0.15, 0.15, 0.2, 0.2, 0, 0],
    [0.5, 0.6, 0.4, 0.5, 0.5, 0.5, 0.4, 0.2, 0.15, 0.1, 0.1, 0.1, 0.1, 0.1, 0.1, 0.1, 0.1],
    [0.15, 0.1, 0.6, 0.7, 0.3, 0.2, 0.15, 0.1, 0.1, 0.07, 0.07, 0.07, 0.07, 0.07, 0.07, 0.1, 0.1],
    [0.5, 0.5, 0.15, 0.7, 0.5, 0.15, 0.1, 0.07, 0.05, 0.05, 0.05, 0.05, 0.05, 0.05, 0.05, 0.07, 0.15],
    [0.6, 0.5, 0.8, 0.2, 0.15, 0.1, 0.07, 0.05, 0.05, 0.05, 0.05, 0.05, 0.05, 0.05, 0.05, 0.07, 0.1],
    [0.5, 0.6, 0.4, 0.2, 0.15, 0.1, 0.07, 0.05, 0.05, 0.05, 0.05, 0.05, 0.05, 0.05, 0.05, 0.07, 0.1],
    [0.7, 0.5, 0.5, 0.5, 0.3, 0.15, 0.07, 0.05, 0.05, 0.05, 0.05, 0.05, 0.05, 0.05, 0.05, 0.07, 0.1],
]


def draw_points(ax, logw, up, color, label=None):
    """误差棒: 先画一层浅色底, 再画实心点"""
    logw = np.array(logw, dtype=float)
    up = np.array(up, dtype=float)
    w = 10 ** logw
    hi = w * (10 ** up - 1)
    lo = np.minimum(hi, w - 1e-3)
    ax.errorbar(rp, w, yerr=[lo, hi], fmt="s", ms=3.4, color=color, alpha=0.3,
                elinewidth=1.2, capsize=2.6, capthick=2.4, zorder=2)
    ax.errorbar(rp, w, yerr=[lo, hi], fmt="o", ms=1.9, color=color,
                elinewidth=1.1, capsize=2.0, capthick=1.0, zorder=3, label=label)


fit_cols = [fit1, fit2, fit3, fit4, fit5]
fit_up_cols = [fit1_up, fit2_up, fit3_up, fit4_up, fit5_up]
wp_cols = [wp1, wp2, wp3, wp4, wp5]
wp_up_cols = [wp1_up, wp2_up, wp3_up, wp4_up, wp5_up]
shade_cols = [shade_1, shade_2, shade_3, shade_4, shade_5]

fig, axes = plt.subplots(13, 5, figsize=(7.77, 9.9), sharex=True, sharey=True)
fig.subplots_adjust(left=0.049, right=0.9936, top=0.985, bottom=0.0333,
                    wspace=0, hspace=0)

for c in range(5):
    for r in range(13):
        ax = axes[r, c]
        edge = shade_cols[c][r]
        ax.axvspan(1e-2, edge, color="#c8c8c8", lw=0, zorder=0)
        ax.axvspan(edge, edge * 1.1, color="#e4e4e4", lw=0, zorder=0)
        first = (r == 0 and c == 1)
        draw_points(ax, fit_cols[c][r], fit_up_cols[c][r], BLUE,
                    label=r"$\mathcal{A}\Pi^{\rm best}_{2}$" if first else None)
        draw_points(ax, wp_cols[c][r], wp_up_cols[c][r], ORANGE,
                    label=r"$w_{\rm p}$" if first else None)
        ax.tick_params(labelsize=6.8, length=3, pad=1.5)
        ax.tick_params(which="minor", length=1.5)

ax0 = axes[0, 0]
ax0.set_xscale("log")
ax0.set_yscale("log")
ax0.set_xlim(1e-2, 46)
ax0.set_ylim(1, 2000)
ax0.yaxis.set_major_locator(LogLocator(base=10, numticks=10))
ax0.yaxis.set_minor_locator(LogLocator(base=10, subs=np.arange(2, 10), numticks=10))
ax0.yaxis.set_minor_formatter(NullFormatter())
ax0.xaxis.set_major_locator(LogLocator(base=10, numticks=10))
ax0.xaxis.set_minor_locator(LogLocator(base=10, subs=np.arange(2, 10), numticks=10))
ax0.xaxis.set_minor_formatter(NullFormatter())

for c in range(5):
    axes[0, c].set_title(rf"pop$_1$:$10^{{{pop1_mass[c]}}}M_\odot$", color=RED,
                         fontsize=6.3, pad=2.5)
    axes[12, c].set_xlabel(r"$r_{\rm p}\,(h^{-1}{\rm Mpc})$", fontsize=6.8)
    axes[12, c].xaxis.set_label_coords(0.5, -0.235)

for r in range(13):
    axes[r, 0].set_ylabel(r"$w_{\rm p}(h^{-1}{\rm Mpc})$", fontsize=6.5)
    axes[r, 0].yaxis.set_label_coords(-0.17, 0.5)
    axes[r, 0].text(0.94, 0.92, rf"pop$_2$:$10^{{{pop2_mass[r]}}}M_\odot$",
                    transform=axes[r, 0].transAxes, ha="right", va="top",
                    color=RED, fontsize=6.2)

axes[0, 1].legend(loc="upper right", fontsize=4.5, borderaxespad=0.3,
                  handlelength=1.0, borderpad=0.5, labelspacing=0.6)

fig.savefig("out.png", dpi=100)
